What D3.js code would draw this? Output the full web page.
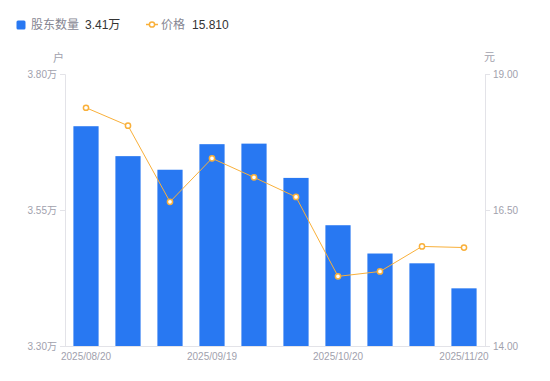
<!DOCTYPE html>
<html><head><meta charset="utf-8">
<script src="https://cdn.jsdelivr.net/npm/d3@7/dist/d3.min.js"></script>
<style>
html,body{margin:0;padding:0;background:#fff;}
text{font-family:"Liberation Sans",Arial,"Noto Sans CJK SC",sans-serif;}
</style></head>
<body><svg id="c" width="550" height="381"></svg>
<script>
const dates = ["2025/08/20","2025/08/29","2025/09/10","2025/09/19","2025/09/30","2025/10/10","2025/10/20","2025/10/31","2025/11/10","2025/11/20"];
const holders = [3.704, 3.649, 3.624, 3.671, 3.672, 3.609, 3.522, 3.470, 3.452, 3.406];
const prices = [18.38, 18.05, 16.65, 17.45, 17.10, 16.74, 15.28, 15.37, 15.83, 15.81];
const leftTicks = [3.30, 3.55, 3.80];
const rightTicks = [14.00, 16.50, 19.00];
const shownDates = ["2025/08/20","2025/09/19","2025/10/20","2025/11/20"];

const blue = "#2878f2", orange = "#f9b03a", grid = "#e3e3e8", tcol = "#a1a1ad";
const svg = d3.select("#c");
const m = {l:65, r:485, t:74, b:346};
const x = d3.scaleBand().domain(dates).range([m.l, m.r]).paddingInner(0.4).paddingOuter(0.2);
const yL = d3.scaleLinear().domain([3.30, 3.80]).range([m.b, m.t]);
const yR = d3.scaleLinear().domain([14, 19]).range([m.b, m.t]);

// axes
const gl = svg.append("g").attr("transform",`translate(${m.l},0)`)
  .call(d3.axisLeft(yL).tickValues(leftTicks).tickSize(5).tickPadding(3).tickFormat(d=>d.toFixed(2)+"万"));
const gr = svg.append("g").attr("transform",`translate(${m.r},0)`)
  .call(d3.axisRight(yR).tickValues(rightTicks).tickSize(5).tickPadding(3).tickFormat(d=>d.toFixed(2)));
const gb = svg.append("g").attr("transform",`translate(0,${m.b})`)
  .call(d3.axisBottom(x).tickValues(shownDates).tickSize(0).tickPadding(7));
[gl,gr,gb].forEach(g=>{
  g.selectAll(".domain").attr("stroke",grid);
  g.selectAll(".tick line").attr("stroke",grid);
  g.selectAll(".tick text").attr("fill",tcol).attr("font-size","10px")
   .style("font-family",'"Liberation Sans",Arial,"Noto Sans CJK SC",sans-serif');
});
gb.select(".domain").attr("d",`M${m.l},0.5H${m.r}`);

// bars
svg.append("g").selectAll("rect").data(dates).join("rect")
  .attr("x",d=>x(d)).attr("width",x.bandwidth())
  .attr("y",(d,i)=>yL(holders[i])).attr("height",(d,i)=>m.b-yL(holders[i]))
  .attr("fill",blue);

// line
const cx = d=>x(d)+x.bandwidth()/2;
svg.append("path").datum(dates)
  .attr("d", d3.line().x(cx).y((d,i)=>yR(prices[i])))
  .attr("fill","none").attr("stroke",orange).attr("stroke-width",1);
svg.append("g").selectAll("circle").data(dates).join("circle")
  .attr("cx",cx).attr("cy",(d,i)=>yR(prices[i])).attr("r",2.6)
  .attr("fill","#fff").attr("stroke",orange).attr("stroke-width",1.5);

// unit labels
svg.append("text").attr("x",64).attr("y",62).attr("text-anchor","end").attr("font-size","11px").attr("fill",tcol).text("户");
svg.append("text").attr("x",484).attr("y",61).attr("font-size","11px").attr("fill",tcol).text("元");

// legend
const lg = svg.append("g");
lg.append("rect").attr("x",16.5).attr("y",20.5).attr("width",9).attr("height",9).attr("rx",1.5).attr("fill",blue);
lg.append("text").attr("x",31).attr("y",29).attr("font-size","12px").attr("fill","#868692").text("股东数量");
lg.append("text").attr("x",85).attr("y",29).attr("font-size","12px").attr("fill","#333").text(holders[holders.length-1].toFixed(2)+"万");
lg.append("line").attr("x1",146).attr("x2",158).attr("y1",24.5).attr("y2",24.5).attr("stroke",orange).attr("stroke-width",1.5);
lg.append("circle").attr("cx",152).attr("cy",24.5).attr("r",2.6).attr("fill","#fff").attr("stroke",orange).attr("stroke-width",1.5);
lg.append("text").attr("x",161).attr("y",29).attr("font-size","12px").attr("fill","#868692").text("价格");
lg.append("text").attr("x",192).attr("y",29).attr("font-size","12px").attr("fill","#333").text(prices[prices.length-1].toFixed(3));
</script></body></html>
